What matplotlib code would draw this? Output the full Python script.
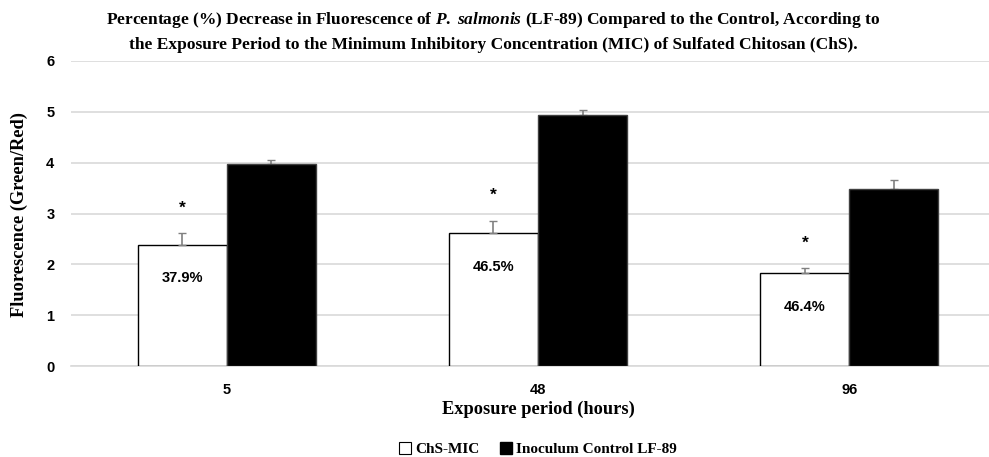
import numpy as np
import matplotlib
matplotlib.use('Agg')
import matplotlib.pyplot as plt
from matplotlib.lines import Line2D

plt.rcParams['mathtext.fontset'] = 'custom'
plt.rcParams['mathtext.it'] = 'Liberation Serif:italic:bold'
plt.rcParams['mathtext.rm'] = 'Liberation Serif:bold'

# ---------------- data ----------------
periods = ['5', '48', '96']
chs_mic = [2.39, 2.61, 1.82]
chs_err = [0.22, 0.25, 0.11]
control = [3.97, 4.93, 3.48]
control_err = [0.09, 0.11, 0.17]
decrease = ['37.9%', '46.5%', '46.4%']

serif = 'Liberation Serif'
sans = 'Liberation Sans'

# ---------------- plot ----------------
fig = plt.figure(figsize=(9.89, 4.57), dpi=100)
ax = fig.add_axes([71/989, 1 - 366/457, (1005 - 71)/989, (366 - 61)/457])

x = np.arange(len(periods))
w = 0.286
ax.bar(x - w/2, chs_mic, w, color='white', edgecolor='black', linewidth=1.0, zorder=3)
ax.bar(x + w/2, control, w, color='black', edgecolor='#404040', linewidth=1.0, zorder=3)
ax.errorbar(x - w/2, chs_mic, yerr=[np.zeros(3), chs_err], fmt='none',
            ecolor='#808080', elinewidth=1.2, capsize=3, capthick=1.0, zorder=4)
ax.errorbar(x + w/2, control, yerr=[np.zeros(3), control_err], fmt='none',
            ecolor='#808080', elinewidth=1.2, capsize=3, capthick=1.0, zorder=2)

for xi, v, e, lab in zip(x, chs_mic, chs_err, decrease):
    ax.annotate('*', (xi - w/2, v + e), xytext=(0, 18), textcoords='offset points',
                ha='center', va='center', fontsize=12.5, fontweight='bold', family=sans)
    ax.annotate(lab, (xi - w/2, v), xytext=(0, -24), textcoords='offset points',
                ha='center', va='center', fontsize=10.5, fontweight='bold', family=sans)

ax.set_xlim(-0.5, 2.5)
ax.set_ylim(0, 6)
ax.set_yticks(range(0, 7))
ax.set_xticks(x)
ax.set_xticklabels(periods)
for t in ax.get_xticklabels() + ax.get_yticklabels():
    t.set_fontfamily(sans)
    t.set_fontweight('bold')
    t.set_fontsize(10.5)
ax.tick_params(axis='x', length=0, pad=12)
ax.tick_params(axis='y', length=0, pad=12)

ax.grid(axis='y', color='#d9d9d9', linewidth=1.2, zorder=0)
ax.set_axisbelow(True)
for s in ['top', 'right', 'left']:
    ax.spines[s].set_visible(False)
ax.spines['bottom'].set_color('#d9d9d9')
ax.spines['bottom'].set_linewidth(1.2)

fig.text(19/989, 1 - 215/457, 'Fluorescence (Green/Red)', rotation=90, ha='center',
         va='center', family=serif, fontweight='bold', fontsize=13.2)
fig.text(538/989, 1 - 409/457, 'Exposure period (hours)', ha='center', va='center',
         family=serif, fontweight='bold', fontsize=13.2)

fig.text(493/989, 1 - 20/457,
         r'Percentage (%) Decrease in Fluorescence of $P.$ $salmonis$ (LF-89) Compared to the Control, According to',
         ha='center', va='center', family=serif, fontweight='bold', fontsize=12.5)
fig.text(493/989, 1 - 45/457,
         'the Exposure Period to the Minimum Inhibitory Concentration (MIC) of Sulfated Chitosan (ChS).',
         ha='center', va='center', family=serif, fontweight='bold', fontsize=12.5)

handles = [Line2D([], [], marker='s', ls='none', markersize=8, markerfacecolor='white',
                  markeredgecolor='black', markeredgewidth=0.8),
           Line2D([], [], marker='s', ls='none', markersize=8, markerfacecolor='black',
                  markeredgecolor='black')]
fig.legend(handles, ['ChS-MIC', 'Inoculum Control LF-89'], loc='center',
           bbox_to_anchor=(537/989, 1 - 449/457), ncol=2, frameon=False,
           prop={'family': serif, 'weight': 'bold', 'size': 11},
           handletextpad=0.2, columnspacing=1.2, handlelength=1.0)

plt.savefig('out.png', dpi=100)
